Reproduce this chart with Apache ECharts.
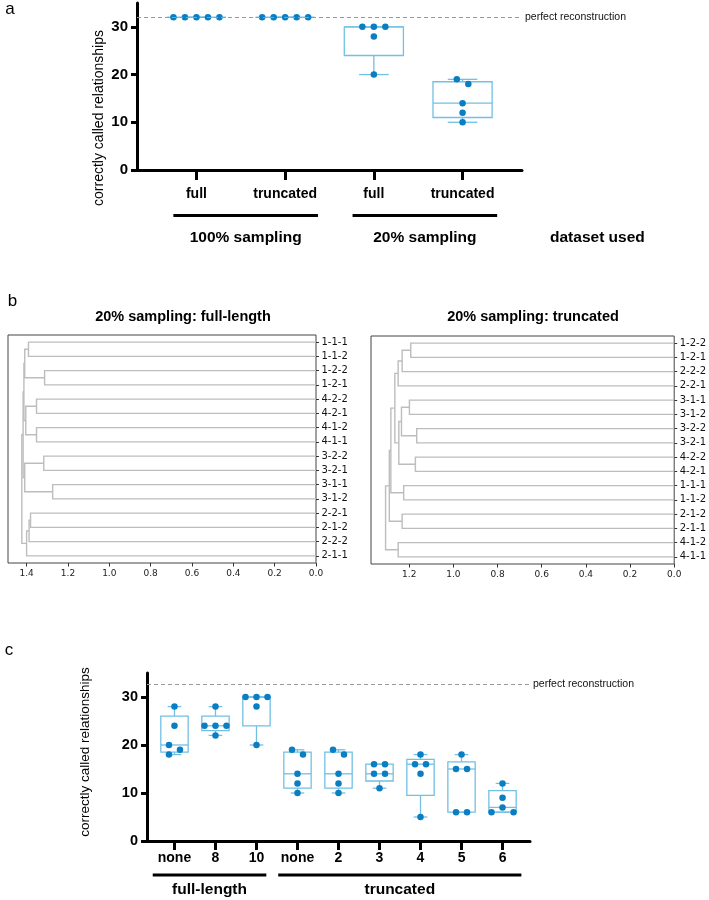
<!DOCTYPE html>
<html><head><meta charset="utf-8">
<script src="https://cdn.jsdelivr.net/npm/echarts@6/dist/echarts.min.js"></script>
<style>html,body{margin:0;padding:0;background:#fff}#c{width:709px;height:900px}</style>
</head><body><div id="c"></div><script>
// ---------------- DATA ----------------
// Panel a
const aCategories = ['full', 'truncated', 'full', 'truncated'];
const aGroups = ['100% sampling', '20% sampling'];
const aValues = [
  [32, 32, 32, 32, 32],
  [32, 32, 32, 32, 32],
  [30, 30, 30, 28, 20],
  [19, 18, 14, 12, 10]
];
const aPerfect = 32;
const aYTicks = [0, 10, 20, 30];

// Panel b (dendrograms): leaves top->bottom, merges [childA, childB, height]
const bLeftLeaves = ['1-1-1','1-1-2','1-2-2','1-2-1','4-2-2','4-2-1','4-1-2','4-1-1','3-2-2','3-2-1','3-1-1','3-1-2','2-2-1','2-1-2','2-2-2','2-1-1'];
const bLeftMerges = [
  [0, 1, 1.391], [2, 3, 1.313], [16, 17, 1.409],
  [4, 5, 1.352], [6, 7, 1.352], [19, 20, 1.404],
  [18, 21, 1.413],
  [8, 9, 1.317], [10, 11, 1.274], [23, 24, 1.409],
  [22, 25, 1.417],
  [12, 13, 1.381], [27, 14, 1.388], [28, 15, 1.400],
  [26, 29, 1.423]
];
const bRightLeaves = ['1-2-2','1-2-1','2-2-2','2-2-1','3-1-1','3-1-2','3-2-2','3-2-1','4-2-2','4-2-1','1-1-1','1-1-2','2-1-2','2-1-1','4-1-2','4-1-1'];
const bRightMerges = [
  [0, 1, 1.193], [16, 2, 1.232], [17, 3, 1.250],
  [4, 5, 1.199], [6, 7, 1.166], [19, 20, 1.235],
  [8, 9, 1.172], [21, 22, 1.247],
  [18, 23, 1.265],
  [10, 11, 1.225], [24, 25, 1.283],
  [12, 13, 1.232], [26, 27, 1.290],
  [14, 15, 1.250], [28, 29, 1.307]
];
const bLeftTitle = '20% sampling: full-length';
const bRightTitle = '20% sampling: truncated';
const bLeftTicks = [0, 0.2, 0.4, 0.6, 0.8, 1.0, 1.2, 1.4];
const bRightTicks = [0, 0.2, 0.4, 0.6, 0.8, 1.0, 1.2];

// Panel c
const cCategories = ['none', '8', '10', 'none', '2', '3', '4', '5', '6'];
const cGroups = ['full-length', 'truncated'];
const cValues = [
  [28, 24, 20, 19, 18],
  [28, 24, 24, 24, 22],
  [30, 30, 30, 28, 20],
  [19, 18, 14, 12, 10],
  [19, 18, 14, 12, 10],
  [16, 16, 14, 14, 11],
  [18, 16, 16, 14, 5],
  [18, 15, 15, 6, 6],
  [12, 9, 7, 6, 6]
];
const cPerfect = 32.6;
const cYTicks = [0, 10, 20, 30];

const yTitle = 'correctly called relationships';
const perfectLabel = 'perfect reconstruction';
const datasetLabel = 'dataset used';

// ---------------- STYLE / LAYOUT ----------------
const DOT = '#0a7ec2';
const BOX = '#72c0e4';
const SANS = '"Liberation Sans", Arial, sans-serif';
const DEJA = '"DejaVu Sans", sans-serif';
const aGroupSpan = [[0.74, 2.37], [2.76, 4.39]];
const cGroupSpan = [[0.47, 3.24], [3.53, 9.46]];

// ---------------- HELPERS ----------------
function median(s) { const n = s.length; return n % 2 ? s[(n - 1) / 2] : (s[n / 2 - 1] + s[n / 2]) / 2; }
function boxStats(vals) {
  const s = vals.slice().sort((a, b) => a - b); const n = s.length;
  const lo = s.slice(0, Math.floor(n / 2)), hi = s.slice(Math.ceil(n / 2));
  return [s[0], median(lo), median(s), median(hi), s[n - 1]];
}
function jitter(vals, sp, thr) {
  const idx = vals.map((v, i) => i).sort((a, b) => vals[b] - vals[a]);
  const rows = [];
  idx.forEach(i => {
    const last = rows[rows.length - 1];
    if (last && last.v === vals[i]) last.items.push(i); else rows.push({ v: vals[i], items: [i] });
  });
  rows.forEach(r => { const n = r.items.length; r.off = r.items.map((_, k) => (k - (n - 1) / 2) * sp); });
  for (let i = 1; i < rows.length; i++) {
    const p = rows[i - 1], r = rows[i];
    if (p.v - r.v >= thr) continue;
    const pn = p.items.length, n = r.items.length;
    if (pn === 1 && n === 1) { if (p.off[0] === 0) p.off[0] = -sp / 2; r.off[0] = -p.off[0]; }
    else if (pn === 1 && p.off[0] === 0 && n % 2 === 0) { r.off = r.items.map((_, k) => (k - (n - 1) / 2) * 2 * sp); }
  }
  const out = new Array(vals.length);
  rows.forEach(r => r.items.forEach((i, k) => { out[i] = r.off[k]; }));
  return out;
}
function scatterData(groups, sp) {
  const d = [];
  groups.forEach((vals, g) => {
    const off = jitter(vals, sp, 1.5);
    vals.forEach((v, i) => d.push({ value: [g + 1, v], symbolOffset: [off[i], 0] }));
  });
  return d;
}
function boxData(groups) { return groups.map((vals, g) => [g + 1].concat(boxStats(vals))); }
function boxRender(params, api) {
  const x = api.value(0), mn = api.value(1), q1 = api.value(2), md = api.value(3), q3 = api.value(4), mx = api.value(5);
  const hw = 1 / 3, cw = 1 / 6;
  const c = (xx, yy) => api.coord([xx, yy]);
  const st = { stroke: BOX, lineWidth: 1.3, fill: null };
  const ln = (p1, p2) => ({ type: 'line', shape: { x1: p1[0], y1: p1[1], x2: p2[0], y2: p2[1] }, style: st });
  const L = c(x - hw, q3), R = c(x + hw, q1);
  return {
    type: 'group', children: [
      { type: 'rect', shape: { x: L[0], y: L[1], width: R[0] - L[0], height: R[1] - L[1] }, style: st },
      ln(c(x - hw, md), c(x + hw, md)),
      ln(c(x, q3), c(x, mx)), ln(c(x, q1), c(x, mn)),
      ln(c(x - cw, mx), c(x + cw, mx)), ln(c(x - cw, mn), c(x + cw, mn))
    ]
  };
}
function dendroData(n, merges) {
  const pos = []; for (let i = 0; i < n; i++) pos.push({ y: i, h: 0 });
  const data = [];
  merges.forEach(([a, b, h]) => {
    const A = pos[a], B = pos[b];
    data.push([h, A.y, B.y, A.h, B.h]);
    pos.push({ y: (A.y + B.y) / 2, h: h });
  });
  return data;
}
function dendroRender(params, api) {
  const h = api.value(0), ya = api.value(1), yb = api.value(2), ha = api.value(3), hb = api.value(4);
  const pts = [api.coord([ha, ya]), api.coord([h, ya]), api.coord([h, yb]), api.coord([hb, yb])];
  return { type: 'polyline', shape: { points: pts }, style: { stroke: '#bdbdbd', lineWidth: 1.4, fill: null } };
}
function range(n) { const r = []; for (let i = 0; i < n; i++) r.push(i); return r; }

// ---------------- AXES ----------------
function catX(grid, n, labels, tickLen, margin) {
  const cv = range(n).map(i => i + 1);
  return {
    gridIndex: grid, type: 'value', min: 0.33, max: n + 0.67,
    axisLine: { show: true, onZero: false, lineStyle: { color: '#000', width: 3 } },
    axisTick: { show: true, customValues: cv, length: tickLen, lineStyle: { color: '#000', width: 3 } },
    axisLabel: { show: true, customValues: cv, formatter: v => labels[Math.round(v) - 1], color: '#000', fontWeight: 'bold', fontSize: 14, fontFamily: SANS, margin: margin },
    splitLine: { show: false }
  };
}
function valY(grid, ticks, fs) {
  return {
    gridIndex: grid, type: 'value', min: 0, max: 35,
    axisLine: { show: true, onZero: false, lineStyle: { color: '#000', width: 3 } },
    axisTick: { show: true, customValues: ticks, length: 6, lineStyle: { color: '#000', width: 3 } },
    axisLabel: { show: true, customValues: ticks, color: '#000', fontWeight: 'bold', fontSize: fs, fontFamily: SANS, margin: 9 },
    splitLine: { show: false }
  };
}
function dendroX(grid, max, ticks) {
  return {
    gridIndex: grid, type: 'value', min: 0, max: max, inverse: true,
    axisLine: { show: false, onZero: false },
    axisTick: { show: true, customValues: ticks, length: 3.5, lineStyle: { color: '#333', width: 1 } },
    axisLabel: { show: true, customValues: ticks, formatter: v => v.toFixed(1), color: '#222', fontSize: 9, fontFamily: DEJA, margin: 6 },
    splitLine: { show: false }
  };
}
function dendroY(grid, leaves) {
  const cv = range(leaves.length);
  return {
    gridIndex: grid, type: 'value', min: -0.5, max: leaves.length - 0.5, inverse: true, position: 'right',
    axisLine: { show: false, onZero: false },
    axisTick: { show: true, customValues: cv, length: 3, lineStyle: { color: '#333', width: 1 } },
    axisLabel: { show: true, customValues: cv, formatter: v => leaves[Math.round(v)], color: '#111', fontSize: 10, fontFamily: DEJA, margin: 5.5 },
    splitLine: { show: false }
  };
}
function perfectLine(val) {
  return {
    silent: true, symbol: ['none', 'none'], animation: false,
    lineStyle: { type: [4, 3], color: '#9a9a9a', width: 1.2 },
    label: { show: true, position: 'end', formatter: perfectLabel, color: '#111', fontSize: 10.5, fontFamily: SANS, distance: 3 },
    data: [{ yAxis: val }]
  };
}

const chart = echarts.init(document.getElementById('c'));
const option = {
  animation: false,
  backgroundColor: '#fff',
  grid: [
    { left: 137, top: 3, width: 385, height: 167 },
    { left: 8, top: 335, width: 308, height: 228, show: true, borderColor: '#444', borderWidth: 1, backgroundColor: 'transparent' },
    { left: 371, top: 336, width: 306, height: 228, show: true, borderColor: '#444', borderWidth: 1, backgroundColor: 'transparent' },
    { left: 147, top: 673, width: 383, height: 168 }
  ],
  xAxis: [
    catX(0, aCategories.length, aCategories, 10, 17),
    dendroX(1, 1.49, bLeftTicks),
    dendroX(2, 1.373, bRightTicks),
    catX(3, cCategories.length, cCategories, 9, 10)
  ],
  yAxis: [
    valY(0, aYTicks, 15),
    dendroY(1, bLeftLeaves),
    dendroY(2, bRightLeaves),
    valY(3, cYTicks, 14.5)
  ],
  series: [
    { type: 'custom', xAxisIndex: 0, yAxisIndex: 0, data: boxData(aValues), encode: { x: 0, y: [1, 2, 3, 4, 5] }, renderItem: boxRender, z: 2, silent: true },
    { type: 'scatter', xAxisIndex: 0, yAxisIndex: 0, data: scatterData(aValues, 11.5), symbolSize: 6.5, itemStyle: { color: DOT, opacity: 1 }, z: 4, silent: true, markLine: perfectLine(aPerfect) },
    { type: 'custom', xAxisIndex: 1, yAxisIndex: 1, data: dendroData(bLeftLeaves.length, bLeftMerges), encode: { x: [0, 3, 4], y: [1, 2] }, renderItem: dendroRender, silent: true },
    { type: 'custom', xAxisIndex: 2, yAxisIndex: 2, data: dendroData(bRightLeaves.length, bRightMerges), encode: { x: [0, 3, 4], y: [1, 2] }, renderItem: dendroRender, silent: true },
    { type: 'custom', xAxisIndex: 3, yAxisIndex: 3, data: boxData(cValues), encode: { x: 0, y: [1, 2, 3, 4, 5] }, renderItem: boxRender, z: 2, silent: true },
    { type: 'scatter', xAxisIndex: 3, yAxisIndex: 3, data: scatterData(cValues, 11), symbolSize: 6.5, itemStyle: { color: DOT, opacity: 1 }, z: 4, silent: true, markLine: perfectLine(cPerfect) }
  ]
};
chart.setOption(option);

// ---------------- ANNOTATIONS ----------------
function txt(x, y, text, font, extra) {
  return Object.assign({
    type: 'text', x: x, y: y, silent: true,
    style: { text: text, font: font, fill: '#000', align: 'center', verticalAlign: 'middle', textAlign: 'center', textVerticalAlign: 'middle' }
  }, extra || {});
}
function hline(x1, x2, y) {
  return { type: 'line', silent: true, shape: { x1: x1, y1: y, x2: x2, y2: y }, style: { stroke: '#000', lineWidth: 3 } };
}
const g = [];
function groupAnno(gi, spans, labels, lineY, labelY, font) {
  spans.forEach((s, k) => {
    const p1 = chart.convertToPixel({ gridIndex: gi }, [s[0], 0]);
    const p2 = chart.convertToPixel({ gridIndex: gi }, [s[1], 0]);
    g.push(hline(p1[0], p2[0], lineY));
    g.push(txt((p1[0] + p2[0]) / 2, labelY, labels[k], font));
  });
}
groupAnno(0, aGroupSpan, aGroups, 215.5, 238, 'bold 15.5px ' + SANS);
g.push(txt(chart.convertToPixel({ gridIndex: 0 }, [5.52, 0])[0], 238, datasetLabel, 'bold 15.5px ' + SANS));
groupAnno(3, cGroupSpan, cGroups, 875, 890, 'bold 15.5px ' + SANS);

g.push(txt(99.5, 118, yTitle, '14px ' + SANS, { rotation: Math.PI / 2 }));
g.push(txt(85, 752, yTitle, '13.5px ' + SANS, { rotation: Math.PI / 2 }));
g.push(txt(183, 317, bLeftTitle, 'bold 14.5px ' + SANS));
g.push(txt(533, 317, bRightTitle, 'bold 14.5px ' + SANS));
g.push(txt(10, 9, 'a', '17px ' + SANS));
g.push(txt(12.5, 301, 'b', '17px ' + SANS));
g.push(txt(9, 650, 'c', '17px ' + SANS));
chart.setOption({ graphic: { elements: g } });
</script></body></html>
